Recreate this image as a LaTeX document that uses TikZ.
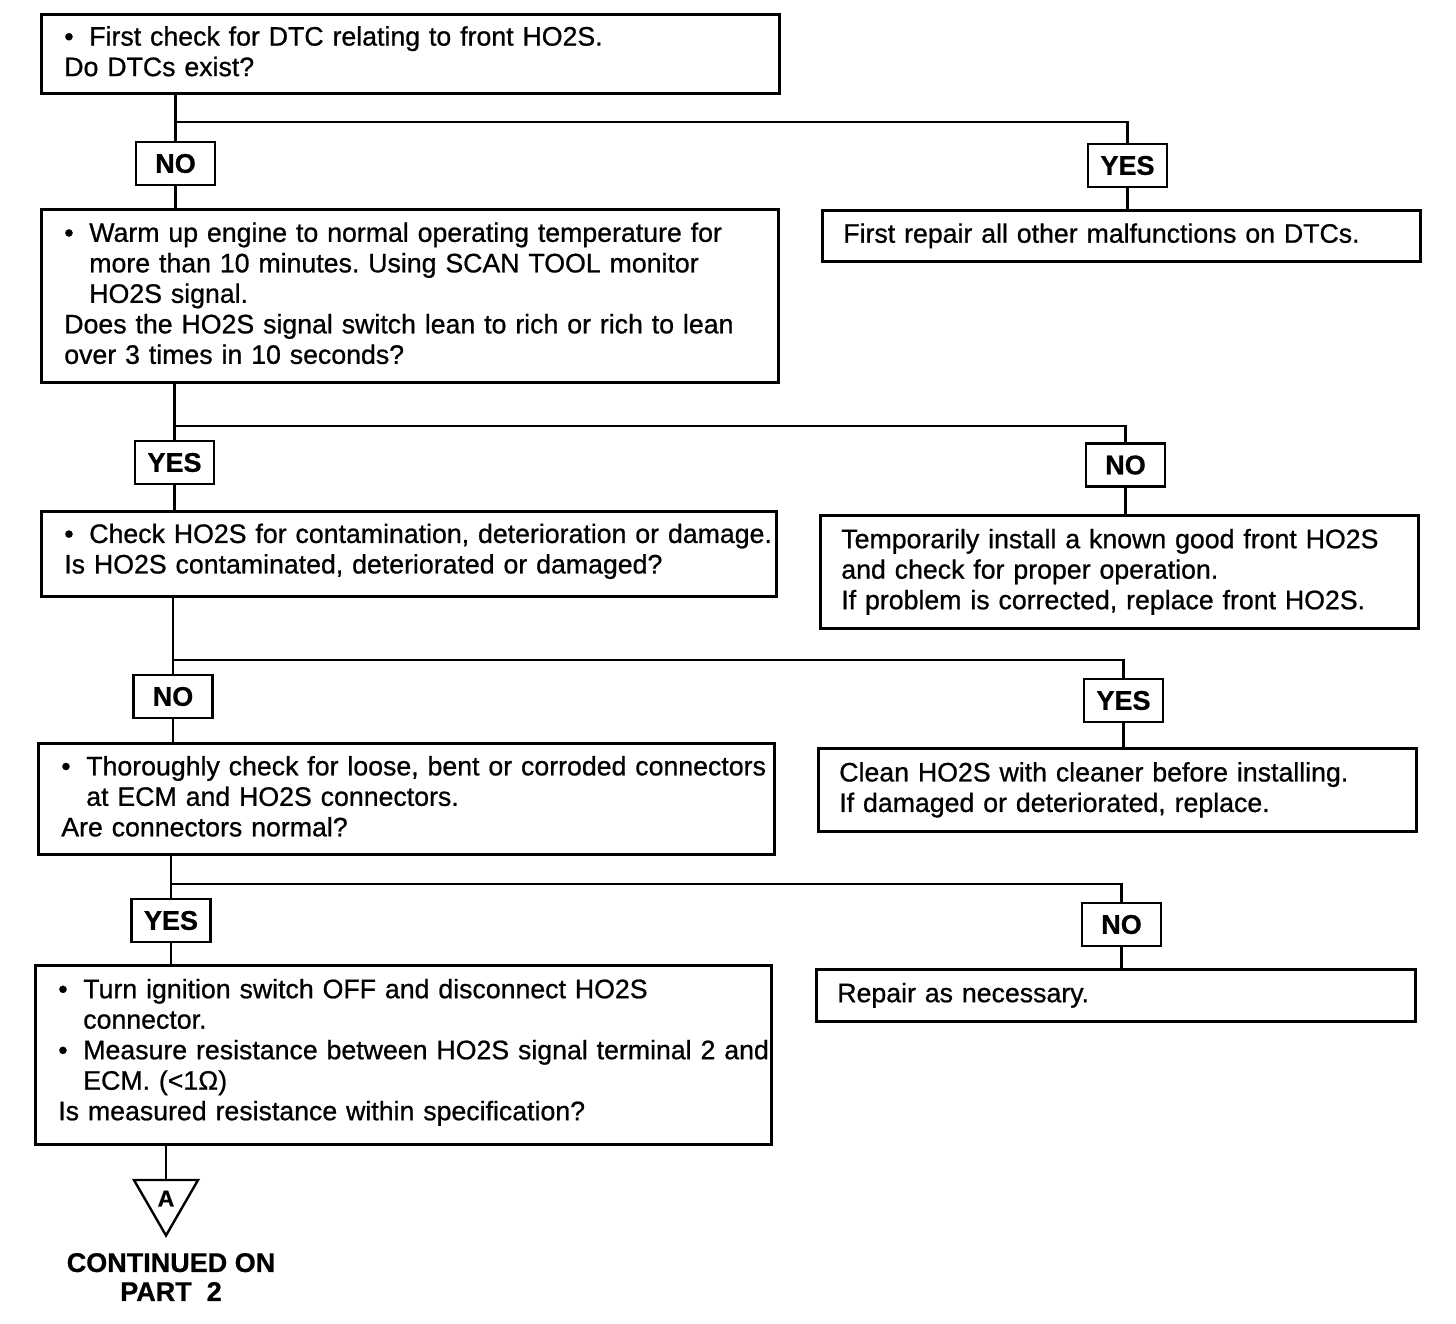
\documentclass[tikz,border=0pt]{standalone}
\usepackage{fontspec}
\setmainfont{Liberation Sans}[FakeBold=0.8]
\usetikzlibrary{positioning,shapes.geometric}
\newcommand{\bul}{\makebox[25pt][l]{\textbullet}}
\newcommand{\cont}{\hspace*{25pt}}
\frenchspacing

\begin{document}
\begin{tikzpicture}[x=1pt,y=-1pt,line width=2.4pt,font=\fontsize{26.7}{30.5}\selectfont]
\tikzset{flowbox/.style={draw,line width=2.6pt,anchor=north west,inner sep=0pt,align=left}}
\tikzset{stepbox/.style={flowbox,text width=#1,execute at begin node={\leftskip=23pt\rightskip=0pt plus 1fil minus 40pt\relax},execute at end node={\par\vspace*{5pt}}}}
\tikzset{actbox/.style={flowbox,text width=#1,execute at begin node={\leftskip=21pt\rightskip=0pt plus 1fil minus 40pt\relax}}}
\tikzset{ans/.style={draw,line width=2.4pt,minimum width=79pt,minimum height=43pt,inner sep=0pt,font=\fontsize{27}{30}\selectfont\bfseries}}
\useasboundingbox (0,0) rectangle (1456,1324);
% checks on the left
\node[stepbox=738pt,minimum height=79pt] (q1) at (40,13) {\bul First check for DTC relating to front HO2S.\\Do DTCs exist?};
\node[stepbox=737pt,minimum height=173pt] (q2) at (40,208) {\bul Warm up engine to normal operating temperature for\\\cont more than 10 minutes. Using SCAN TOOL monitor\\\cont HO2S signal.\\Does the HO2S signal switch lean to rich or rich to lean\\over 3 times in 10 seconds?};
\node[stepbox=735pt,minimum height=85pt] (q3) at (40,510) {\bul Check HO2S for contamination, deterioration or damage.\\Is HO2S contaminated, deteriorated or damaged?};
\node[stepbox=736pt,minimum height=111pt] (q4) at (37,742) {\bul Thoroughly check for loose, bent or corroded connectors\\\cont at ECM and HO2S connectors.\\Are connectors normal?};
\node[stepbox=736pt,minimum height=179pt] (q5) at (34,964) {\bul Turn ignition switch OFF and disconnect HO2S\\\cont connector.\\\bul Measure resistance between HO2S signal terminal 2 and\\\cont ECM. (<1Ω)\\Is measured resistance within specification?};
% actions on the right
\node[actbox=598pt,minimum height=51pt] (r1) at (821,209) {First repair all other malfunctions on DTCs.};
\node[actbox=598pt,minimum height=113pt] (r2) at (819,514) {Temporarily install a known good front HO2S\\and check for proper operation.\\If problem is corrected, replace front HO2S.};
\node[actbox=598pt,minimum height=83pt] (r3) at (817,747) {Clean HO2S with cleaner before installing.\\If damaged or deteriorated, replace.};
\node[actbox=599pt,minimum height=52pt] (r4) at (815,968) {Repair as necessary.};
% answers
\node[ans] (no1) at (175.5,163.5) {NO};
\node[ans] (yes1) at (1127.5,165.5) {YES};
\node[ans] (yes2) at (174.5,462.5) {YES};
\node[ans] (no2) at (1125.5,465) {NO};
\node[ans] (no3) at (173,696.5) {NO};
\node[ans] (yes3) at (1123.5,700.5) {YES};
\node[ans] (yes4) at (171,920.5) {YES};
\node[ans] (no4) at (1121.5,924.5) {NO};
\coordinate (j1) at (175.5,122);
\coordinate (j2) at (174.5,426);
\coordinate (j3) at (173,660);
\coordinate (j4) at (171,884);
% continuation
\node[draw,regular polygon,regular polygon sides=3,shape border rotate=180,minimum size=74pt,inner sep=0pt,line width=2.4pt,font=\fontsize{23}{23}\selectfont\bfseries] (markA) at (166,1198.5) {A};
\node[align=center,font=\fontsize{27}{29}\selectfont\bfseries] (part2) at (171,1277) {CONTINUED ON\\PART\ \ 2};
% connectors
\draw (no1.north |- q1.south) -- (no1.north);
\draw (j1) -| (yes1.north);
\draw (no1.south) -- (no1.south |- q2.north);
\draw (yes1.south) -- (yes1.south |- r1.north);
\draw (yes2.north |- q2.south) -- (yes2.north);
\draw (j2) -| (no2.north);
\draw (yes2.south) -- (yes2.south |- q3.north);
\draw (no2.south) -- (no2.south |- r2.north);
\draw (no3.north |- q3.south) -- (no3.north);
\draw (j3) -| (yes3.north);
\draw (no3.south) -- (no3.south |- q4.north);
\draw (yes3.south) -- (yes3.south |- r3.north);
\draw (yes4.north |- q4.south) -- (yes4.north);
\draw (j4) -| (no4.north);
\draw (yes4.south) -- (yes4.south |- q5.north);
\draw (no4.south) -- (no4.south |- r4.north);
\draw (markA.north |- q5.south) -- (markA.north);
\end{tikzpicture}
\end{document}
